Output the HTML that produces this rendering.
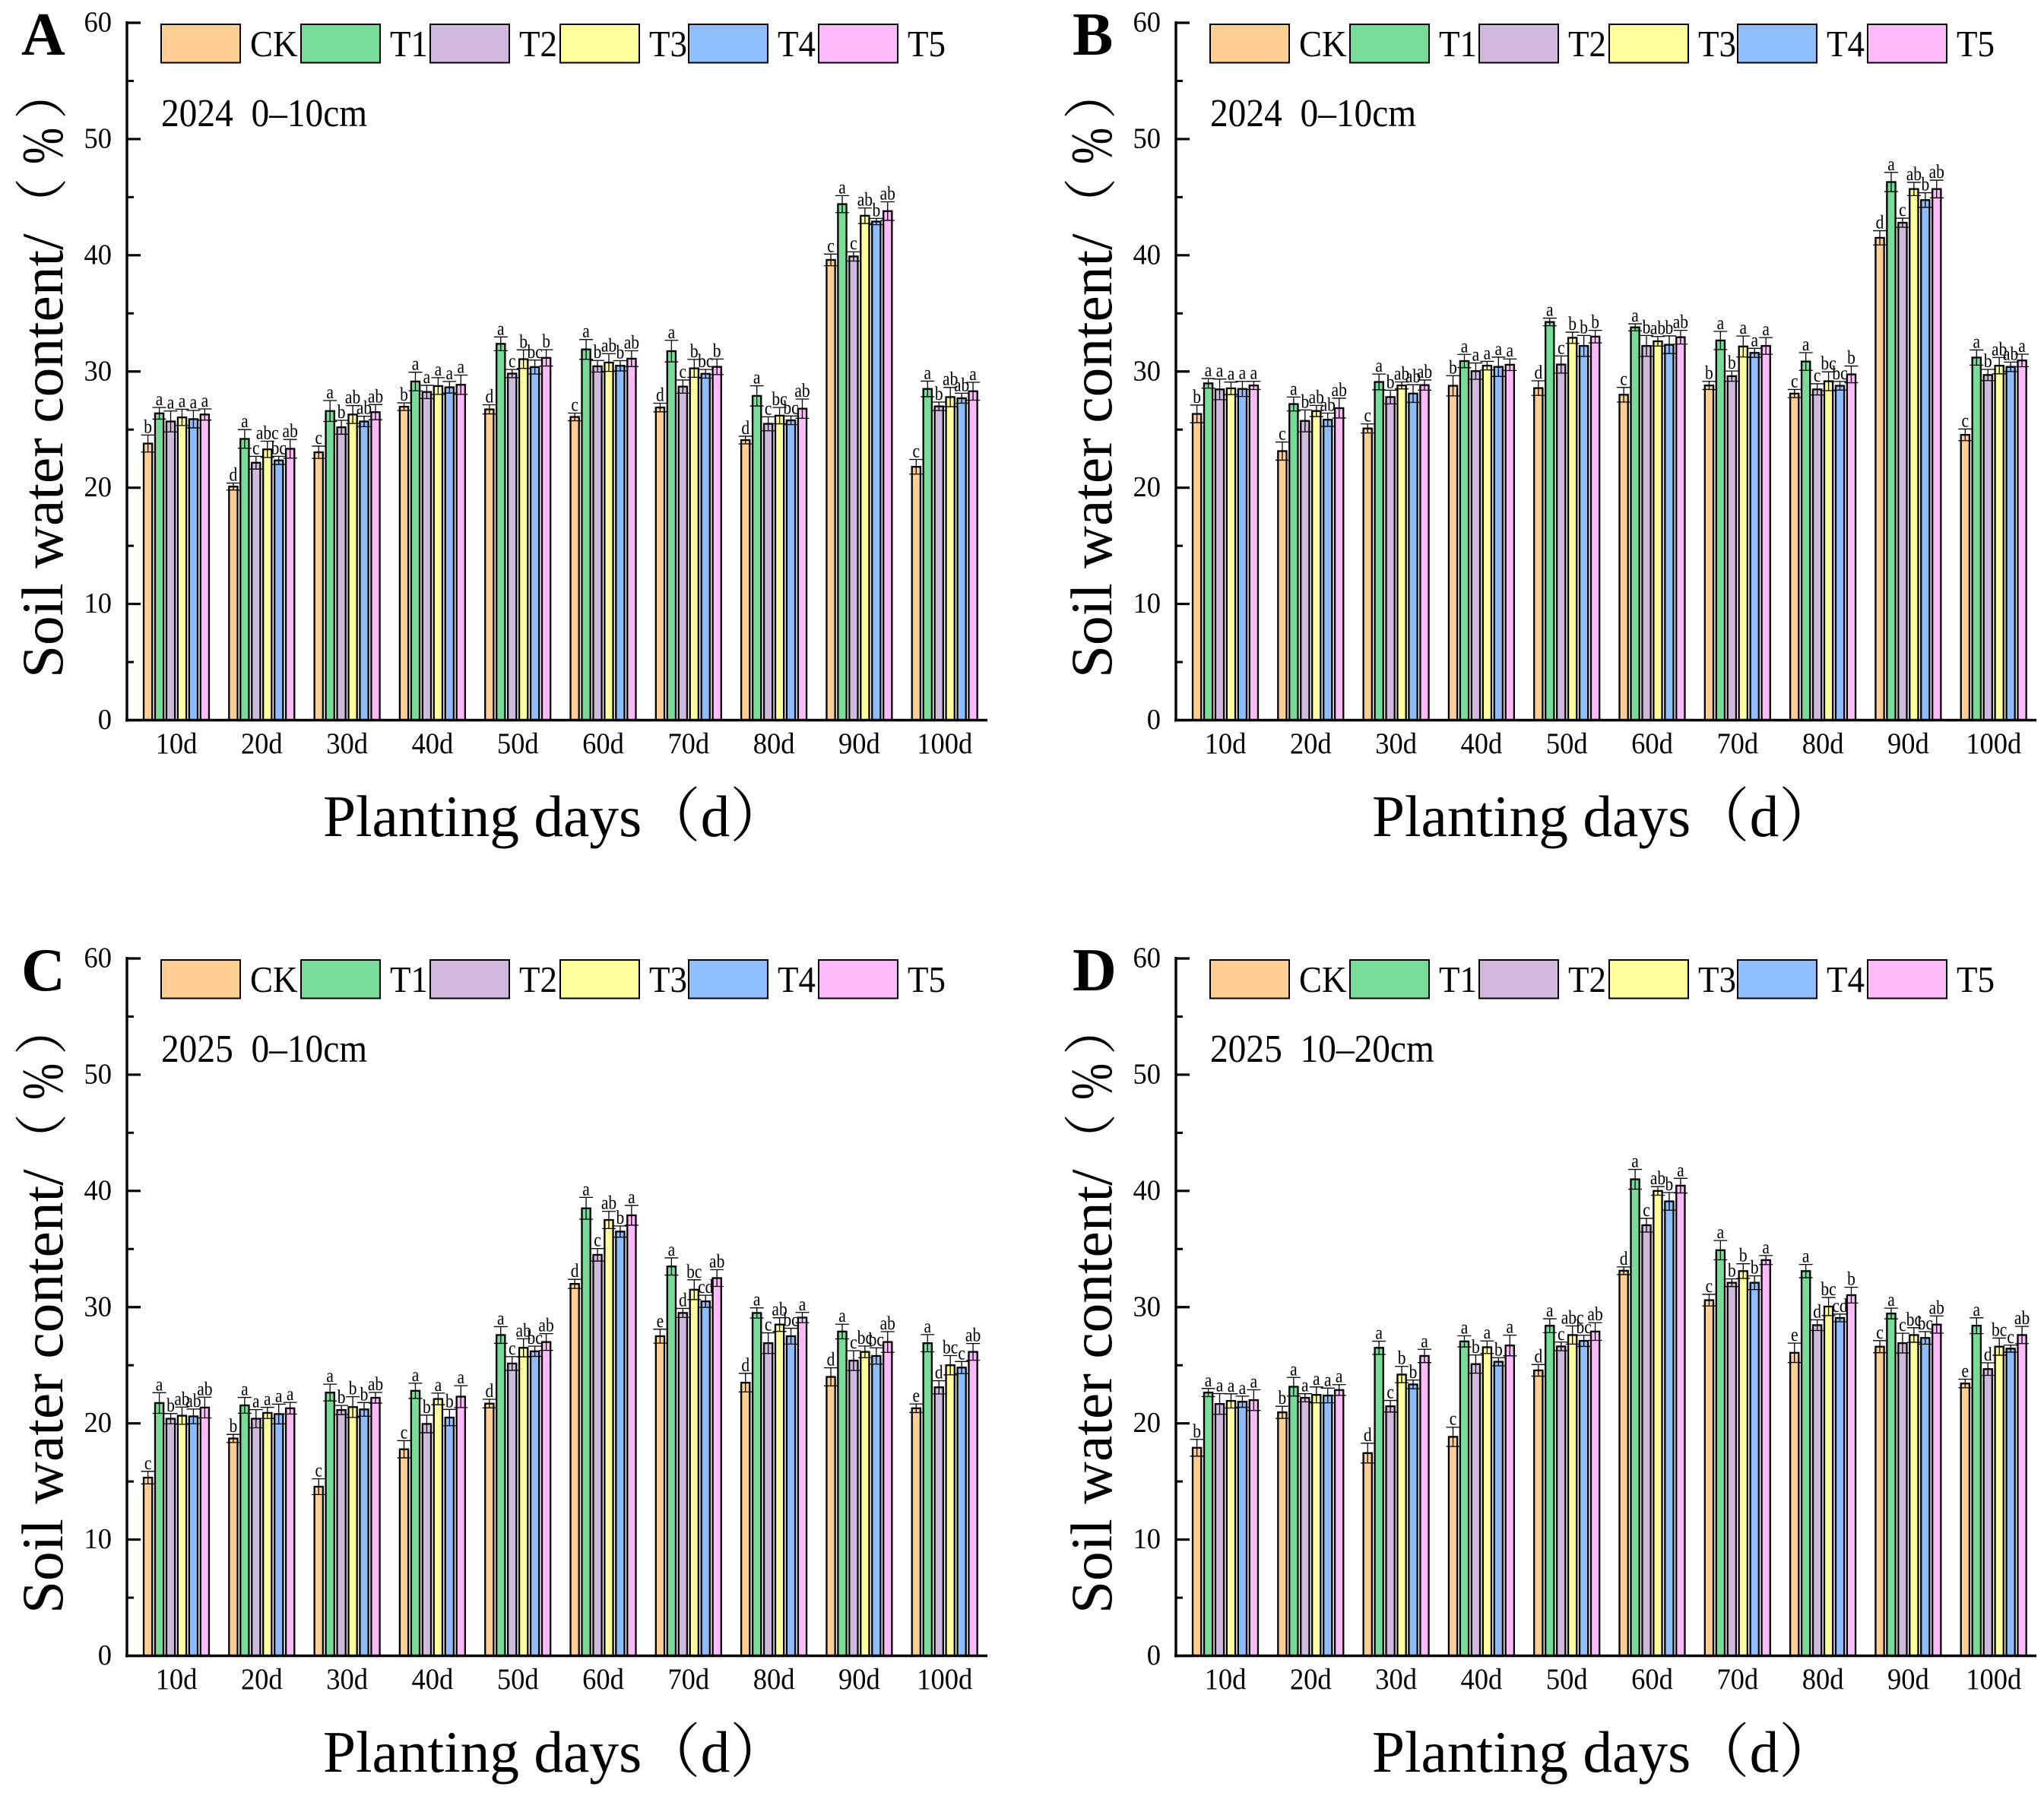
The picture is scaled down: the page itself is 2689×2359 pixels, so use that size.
<!DOCTYPE html>
<html lang="en">
<head>
<meta charset="utf-8">
<title>Soil water content by planting days</title>
<style>
html,body{margin:0;padding:0;background:#fff;}
svg{display:block;}
text{font-family:"Liberation Serif","Noto Serif CJK SC",serif;fill:#000;white-space:pre;}
</style>
</head>
<body>
<svg id="chart" xmlns="http://www.w3.org/2000/svg" width="2689" height="2359" viewBox="0 0 2689 2359">
  <rect x="0" y="0" width="2689" height="2359" fill="#fff"/>
  <g id="panel-a">
    <text x="28" y="72" font-size="80" font-weight="bold">A</text>
    <text x="212" y="166" font-size="47.4" transform="translate(0,-15) scale(1,1.09)">2024  0–10cm</text>
    <g transform="translate(82,892) rotate(-90)">
      <text font-size="77.4">Soil water content/</text>
      <text x="588" y="-2" font-size="70">（</text>
      <text font-size="77" transform="translate(676,0) scale(.75,1)">%</text>
      <text x="735" y="-2" font-size="70">）</text>
    </g>
    <text x="425" y="1100" font-size="77.4">Planting days（d）</text>
  </g>
  <g id="panel-b" transform="translate(1380,0)">
    <text x="31" y="72" font-size="80" font-weight="bold">B</text>
    <text x="212" y="166" font-size="47.4" transform="translate(0,-15) scale(1,1.09)">2024  0–10cm</text>
    <g transform="translate(82,892) rotate(-90)">
      <text font-size="77.4">Soil water content/</text>
      <text x="588" y="-2" font-size="70">（</text>
      <text font-size="77" transform="translate(676,0) scale(.75,1)">%</text>
      <text x="735" y="-2" font-size="70">）</text>
    </g>
    <text x="425" y="1100" font-size="77.4">Planting days（d）</text>
  </g>
  <g id="panel-c" transform="translate(0,1231)">
    <text x="28" y="72" font-size="80" font-weight="bold">C</text>
    <text x="212" y="166" font-size="47.4" transform="translate(0,-15) scale(1,1.09)">2025  0–10cm</text>
    <g transform="translate(82,892) rotate(-90)">
      <text font-size="77.4">Soil water content/</text>
      <text x="588" y="-2" font-size="70">（</text>
      <text font-size="77" transform="translate(676,0) scale(.75,1)">%</text>
      <text x="735" y="-2" font-size="70">）</text>
    </g>
    <text x="425" y="1100" font-size="77.4">Planting days（d）</text>
  </g>
  <g id="panel-d" transform="translate(1380,1231)">
    <text x="31" y="72" font-size="80" font-weight="bold">D</text>
    <text x="212" y="166" font-size="47.4" transform="translate(0,-15) scale(1,1.09)">2025  10–20cm</text>
    <g transform="translate(82,892) rotate(-90)">
      <text font-size="77.4">Soil water content/</text>
      <text x="588" y="-2" font-size="70">（</text>
      <text font-size="77" transform="translate(676,0) scale(.75,1)">%</text>
      <text x="735" y="-2" font-size="70">）</text>
    </g>
    <text x="425" y="1100" font-size="77.4">Planting days（d）</text>
  </g>
</svg>
<script>
// ---- shared categories / ticks ----
const categories = ['10d','20d','30d','40d','50d','60d','70d','80d','90d','100d'];
const seriesNames = ['CK','T1','T2','T3','T4','T5'];
const majorTicks = [0,10,20,30,40,50,60];
const minorTicks = [5,15,25,35,45,55];

// ---- panel A values ----
const aCK = [23.8,20.1,23.05,26.97,26.74,26.09,26.9,24.1,39.6,21.8];
const aT1 = [26.4,24.2,26.6,29.14,32.38,31.9,31.75,27.9,44.4,28.5];
const aT2 = [25.7,22.15,25.2,28.24,29.82,30.45,28.7,25.5,39.9,27.0];
const aT3 = [26.05,23.3,26.3,28.75,31.06,30.77,30.27,26.2,43.4,27.8];
const aT4 = [25.9,22.35,25.7,28.64,30.38,30.49,29.8,25.8,42.9,27.7];
const aT5 = [26.3,23.35,26.5,28.86,31.17,31.1,30.4,26.8,43.8,28.3];
const aCKerr = [.73,.3,.53,.33,.39,.33,.37,.33,.5,.63];
const aT1err = [.5,.8,.9,.8,.59,.85,.93,.87,.73,.67];
const aT2err = [.9,.55,.6,.57,.35,.5,.57,.6,.4,.37];
const aT3err = [.7,.7,.77,.72,.8,.76,.77,.7,.67,.83];
const aT4err = [.75,.35,.45,.5,.6,.44,.37,.37,.27,.43];
const aT5err = [.48,.8,.65,.83,.7,.68,.67,.83,.8,.77];
const aLetters = ['b a a a a a','d a c abc bc ab','c a b ab ab ab','b a a a a a','d a c b bc b','c a b ab b ab','d a c b bc b','d a c bc bc ab','c a c ab b ab','c a b ab ab a'];

// ---- panel B values ----
const bCK = [26.35,23.15,25.1,28.77,28.57,28.0,28.8,28.1,41.5,24.55];
const bT1 = [28.98,27.2,29.1,30.9,34.26,33.8,32.67,30.86,46.3,31.2];
const bT2 = [28.46,25.75,27.8,30.03,30.6,32.2,29.6,28.46,42.8,29.7];
const bT3 = [28.55,26.6,28.8,30.5,32.9,32.6,32.15,29.16,45.7,30.5];
const bT4 = [28.5,25.85,28.1,30.4,32.2,32.3,31.6,28.77,44.75,30.4];
const bT5 = [28.8,26.85,28.83,30.58,33.0,32.95,32.2,29.75,45.7,30.95];
const bCKerr = [.76,.78,.39,.87,.63,.63,.35,.35,.61,.5];
const bT1err = [.41,.6,.68,.57,.33,.3,.78,.76,.83,.65];
const bT2err = [.89,.94,.59,.7,.74,.9,.44,.48,.39,.48];
const bT3err = [.54,.48,.3,.37,.48,.41,.9,.81,.57,.7];
const bT4err = [.65,.57,.76,.83,.9,.76,.39,.37,.63,.41];
const bT5err = [.35,.85,.44,.5,.54,.59,.72,.72,.76,.54];
const bLetters = ['b a a a a a','c a b ab ab ab','c a b ab ab ab','b a a a a a','d a c b b b','c a b ab b ab','b a b a a a','c a c bc bc b','d a c ab b ab','c a b ab ab a'];

// ---- panel C values ----
const cCK = [15.33,18.7,14.55,17.77,21.7,32.0,27.5,23.5,24.0,21.3];
const cT1 = [21.75,21.55,22.65,22.8,27.6,38.5,33.5,29.5,27.9,26.9];
const cT2 = [20.4,20.4,21.15,19.95,25.15,34.5,29.5,26.9,25.4,23.1];
const cT3 = [20.66,20.9,21.4,22.1,26.5,37.5,31.5,28.5,26.15,25.0];
const cT4 = [20.6,20.8,21.2,20.5,26.2,36.5,30.5,27.5,25.8,24.8];
const cT5 = [21.36,21.3,22.2,22.3,27.0,37.9,32.5,29.1,27.0,26.15];
const cCKerr = [.54,.35,.68,.74,.37,.39,.6,.8,.78,.37];
const cT1err = [.89,.68,.72,.65,.72,.94,.74,.44,.63,.74];
const cT2err = [.44,.78,.39,.76,.59,.54,.39,.89,.85,.57];
const cT3err = [.74,.48,.89,.5,.78,.74,.85,.59,.5,.83];
const cT4err = [.63,.85,.59,.7,.44,.48,.52,.68,.7,.52];
const cT5err = [.89,.5,.46,.94,.72,.85,.72,.44,.89,.72];
const cLetters = ['c a b ab ab ab','b a a a a a','c a b b b ab','c a b a b a','d a c ab bc ab','d a c ab b a','e a d bc cd ab','d a c ab bc a','d a c bc bc ab','e a d bc c ab'];

// ---- panel D values ----
const dCK = [17.9,20.95,17.44,18.84,24.56,33.13,30.6,26.07,26.6,23.43];
const dT1 = [22.65,23.15,26.5,27.05,28.4,41.0,34.9,33.1,29.45,28.4];
const dT2 = [21.67,22.2,21.47,25.1,26.62,37.05,32.1,28.45,26.9,24.67];
const dT3 = [21.93,22.45,24.2,26.55,27.6,40.0,33.1,30.05,27.6,26.6];
const dT4 = [21.86,22.4,23.35,25.3,27.1,39.1,32.1,29.07,27.35,26.43];
const dT5 = [22.0,22.87,25.8,26.7,27.9,40.45,34.05,31.03,28.5,27.6];
const dCKerr = [.72,.52,.85,.83,.5,.33,.5,.83,.52,.37];
const dT1err = [.35,.8,.57,.48,.6,.85,.83,.57,.46,.68];
const dT2err = [.89,.35,.5,.78,.37,.59,.33,.46,.85,.54];
const dT3err = [.61,.68,.7,.54,.78,.37,.63,.78,.63,.74];
const dT4err = [.48,.63,.37,.35,.48,.76,.59,.33,.54,.3];
const dT5err = [.89,.46,.57,.89,.76,.63,.39,.68,.74,.74];
const dLetters = ['b a a a a a','b a a a a a','d a c b b a','c a b a b a','d a c abc bc ab','d a c ab b a','c a b b b a','e a d bc cd b','c a c bc bc ab','e a d bc c ab'];

const seriesColors = ['#FECE93','#78DC98','#D1B9DE','#FFFF9E','#8DBDFB','#FEBBFB'];
const legendLeft = [212,396,566,737,906,1077];

const NS = 'http://www.w3.org/2000/svg';
function mk(parent, tag, attrs, txt){
  const el = document.createElementNS(NS, tag);
  for (const k in attrs) el.setAttribute(k, attrs[k]);
  if (txt !== undefined) el.textContent = txt;
  parent.appendChild(el);
  return el;
}
// axis functions (panel-local coordinates)
const Y0 = 947.5, Y60 = 30, AXIS_X = 167, AXIS_END = 1299;
const yScale = v => Y0 - v * (Y0 - Y60) / 60;
const pxPerUnit = (Y0 - Y60) / 60;
const groupX = i => 232 + i * 112.3;
const BAR_STEP = 14.95, BAR_W = 11.2;
const barX = (i, s) => groupX(i) + (s - 2.5) * BAR_STEP;

function drawPanel(id, values, errors, letters){
  const g = document.getElementById(id);

  // legend
  seriesNames.forEach(function(name, s){
    const sw = mk(g, 'rect', {x:legendLeft[s], y:32, width:104, height:50.5, fill:seriesColors[s], stroke:'#000', 'stroke-width':2});
    
    
    const tx = mk(g, 'text', {'font-size':45, transform:'translate(' + (legendLeft[s] + 117) + ',74) scale(1,1.08)'}, name);
    
    
  });

  // bars, error bars, letters
  categories.forEach(function(cat, i){
    const parts = letters[i].split(' ');
    seriesNames.forEach(function(name, s){
      const v = values[s][i], e = errors[s][i];
      const cx = barX(i, s), top = yScale(v), ep = e * pxPerUnit;
      const bar = mk(g, 'rect', {x:cx - BAR_W/2, y:top, width:BAR_W, height:Y0 - top, fill:seriesColors[s], stroke:'#000', 'stroke-width':2.3});
      
      
      const stem = mk(g, 'line', {x1:cx, x2:cx, y1:top + ep, y2:top - ep, stroke:'#000', 'stroke-width':1.3});
      
      
      const capTop = mk(g, 'line', {x1:cx - 9, x2:cx + 9, y1:top - ep, y2:top - ep, stroke:'#000', 'stroke-width':1.3});
      
      
      const capLow = mk(g, 'line', {x1:cx - 9, x2:cx + 9, y1:top + ep, y2:top + ep, stroke:'#000', 'stroke-width':1.3});
      
      
      const lab = mk(g, 'text', {'font-size':21.5, 'text-anchor':'middle', transform:'translate(' + cx + ',' + (top - ep - 3) + ') scale(1,1.18)'}, parts[s]);
      
      
    });
    const xl = mk(g, 'text', {'font-size':36.5, 'text-anchor':'middle', transform:'translate(' + groupX(i) + ',991) scale(1,1.08)'}, cat);
    
    
  });

  // y axis ticks
  majorTicks.forEach(function(t){
    const tk = mk(g, 'line', {x1:AXIS_X, x2:AXIS_X + 18, y1:yScale(t), y2:yScale(t), stroke:'#000', 'stroke-width':3.2});
    
    
    const yl = mk(g, 'text', {'font-size':36.5, 'text-anchor':'end', transform:'translate(147,' + (yScale(t) + 11.5) + ') scale(1,1.03)'}, String(t));
    
    
  });
  minorTicks.forEach(function(t){
    const tk = mk(g, 'line', {x1:AXIS_X, x2:AXIS_X + 9, y1:yScale(t), y2:yScale(t), stroke:'#000', 'stroke-width':3});
    
    
  });

  // axis lines
  const ya = mk(g, 'line', {x1:AXIS_X, x2:AXIS_X, y1:Y60 - 2, y2:Y0 + 2, stroke:'#000', 'stroke-width':3.4});
  
  
  const xa = mk(g, 'line', {x1:AXIS_X - 2, x2:AXIS_END, y1:Y0, y2:Y0, stroke:'#000', 'stroke-width':3.4});
  
  
}

drawPanel('panel-a', [aCK,aT1,aT2,aT3,aT4,aT5], [aCKerr,aT1err,aT2err,aT3err,aT4err,aT5err], aLetters);
drawPanel('panel-b', [bCK,bT1,bT2,bT3,bT4,bT5], [bCKerr,bT1err,bT2err,bT3err,bT4err,bT5err], bLetters);
drawPanel('panel-c', [cCK,cT1,cT2,cT3,cT4,cT5], [cCKerr,cT1err,cT2err,cT3err,cT4err,cT5err], cLetters);
drawPanel('panel-d', [dCK,dT1,dT2,dT3,dT4,dT5], [dCKerr,dT1err,dT2err,dT3err,dT4err,dT5err], dLetters);
</script>
</body>
</html>
